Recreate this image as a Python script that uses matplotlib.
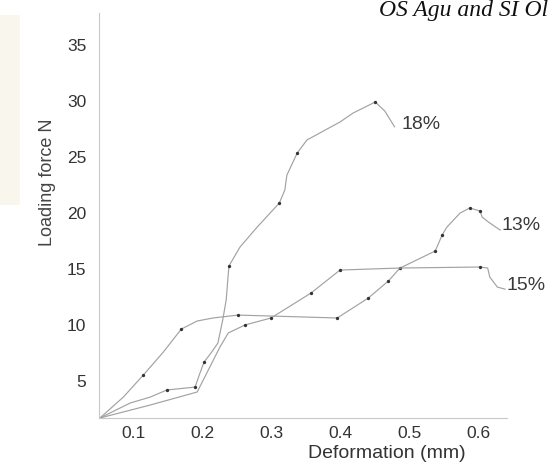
import matplotlib
matplotlib.use('Agg')
import matplotlib.pyplot as plt
from matplotlib.patches import Rectangle

# (deformation mm, load N)
x_18 = [0.052, 0.096, 0.125, 0.149, 0.190, 0.196, 0.203, 0.213, 0.223, 0.230, 0.235, 0.239,
        0.255, 0.280, 0.312, 0.320, 0.323, 0.338, 0.352, 0.400, 0.419, 0.451, 0.465, 0.470, 0.479]
y_18 = [1.70, 3.04, 3.57, 4.20, 4.46, 5.54, 6.70, 7.50, 8.39, 10.45, 12.23, 15.27,
        16.96, 18.75, 20.89, 22.05, 23.39, 25.36, 26.52, 28.13, 28.93, 29.91, 29.10, 28.60, 27.70]
marks_18 = [3, 4, 6, 11, 14, 17, 21]

x_13 = [0.052, 0.086, 0.115, 0.144, 0.170, 0.193, 0.216, 0.252, 0.396, 0.441, 0.470, 0.487,
        0.538, 0.548, 0.555, 0.574, 0.588, 0.603, 0.606, 0.615, 0.632]
y_13 = [1.70, 3.57, 5.54, 7.59, 9.64, 10.36, 10.63, 10.89, 10.63, 12.41, 13.93, 15.09,
        16.61, 18.04, 18.75, 20.00, 20.45, 20.18, 19.64, 19.20, 18.48]
marks_13 = [2, 4, 7, 8, 9, 10, 11, 12, 13, 16, 17]

x_15 = [0.052, 0.125, 0.193, 0.204, 0.226, 0.238, 0.262, 0.300, 0.358, 0.400, 0.487,
        0.603, 0.614, 0.617, 0.628, 0.639]
y_15 = [1.70, 2.86, 4.02, 5.36, 8.04, 9.29, 10.00, 10.63, 12.86, 14.91, 15.09,
        15.18, 15.09, 14.29, 13.39, 13.21]
marks_15 = [6, 7, 8, 9, 11]

series_labels = ['18%', '13%', '15%']
label_pos = [(0.489, 27.9), (0.634, 18.9), (0.641, 13.5)]

x_ticks = [0.1, 0.2, 0.3, 0.4, 0.5, 0.6]
y_ticks = [5, 10, 15, 20, 25, 30, 35]

plt.rcParams['font.family'] = ['Liberation Sans', 'DejaVu Sans']

fig = plt.figure(figsize=(5.49, 4.62), dpi=100)
fig.patch.set_facecolor('white')

# faint yellowish band from the scan on the left edge
fig.patches.append(Rectangle((0, 1 - 205 / 462), 20 / 549, 190 / 462,
                             transform=fig.transFigure, facecolor='#f9f6ee',
                             edgecolor='none', zorder=0))

ax = fig.add_axes([99 / 549, 1 - 418 / 462, 408 / 549, 405 / 462])
ax.set_xlim(0.0507, 0.642)
ax.set_ylim(1.70, 37.86)

line_color = '#a2a2a2'
for xs, ys, mk in [(x_18, y_18, marks_18), (x_13, y_13, marks_13), (x_15, y_15, marks_15)]:
    ax.plot(xs, ys, '-', color=line_color, linewidth=0.85, clip_on=False)
    ax.plot([xs[i] for i in mk], [ys[i] for i in mk], 'o', color='#333333',
            markersize=2.4, markeredgewidth=0, clip_on=False)

for lab, (lx, ly) in zip(series_labels, label_pos):
    ax.text(lx, ly, lab, fontsize=14, color='#3a3a3a', ha='left', va='center', clip_on=False)

for side in ['top', 'right']:
    ax.spines[side].set_visible(False)
for side in ['left', 'bottom']:
    ax.spines[side].set_color('#c8c8c8')
    ax.spines[side].set_linewidth(0.8)

ax.set_xticks(x_ticks)
ax.set_xticklabels([str(t) for t in x_ticks])
ax.set_yticks(y_ticks)
ax.set_yticklabels([str(t) for t in y_ticks])
ax.tick_params(axis='x', length=0, pad=6, labelsize=12.5, labelcolor='#333333')
ax.tick_params(axis='y', length=0, pad=9, labelsize=12.5, labelcolor='#333333')

fig.text(387 / 549, 1 - 453 / 462, 'Deformation (mm)', fontsize=14, color='#333333',
         ha='center', va='center')
fig.text(48 / 549, 1 - 182 / 462, 'Loading force N', fontsize=13, color='#444444',
         ha='center', va='center', rotation=90)

# running header of the page (only this much is visible in the scan)
fig.text(548 / 549, 1 - 16 / 462, 'OS Agu and SI Ol', fontsize=17, family='Liberation Serif',
         style='italic', color='#111111', ha='right', va='baseline')

fig.savefig('out.png', dpi=100)
